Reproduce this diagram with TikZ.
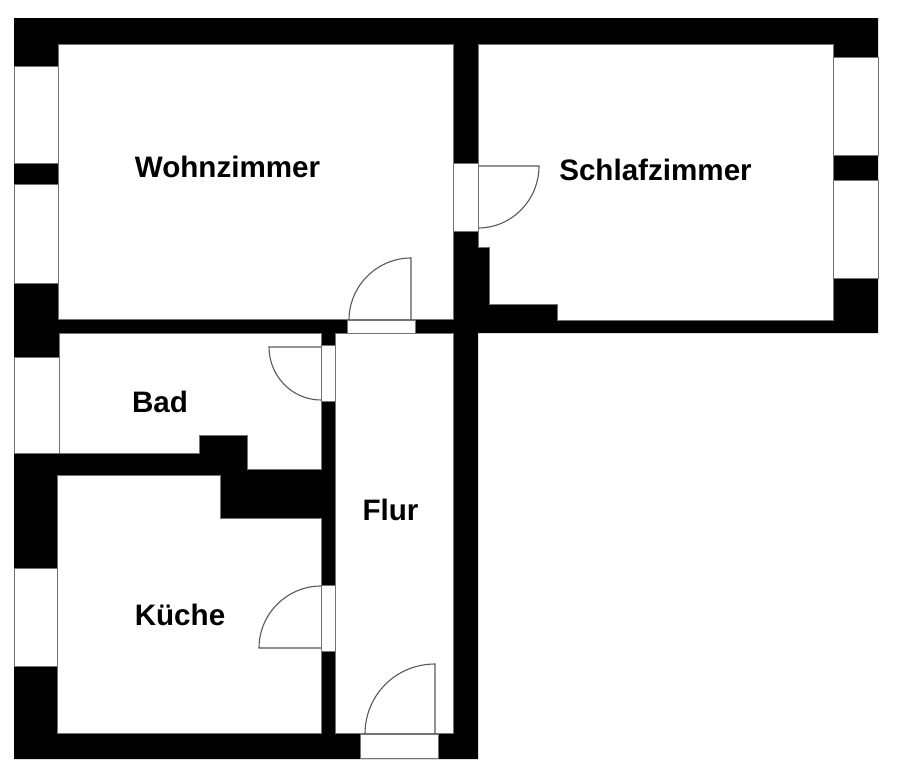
\documentclass[tikz,border=0pt]{standalone}
\usepackage{fontspec}
\setmainfont{Liberation Sans}
\tikzset{
  roomfill/.style={fill=white,draw=wallgray,line width=0.7pt},
  opening/.style={fill=white,draw=wallgray,line width=0.7pt},
  swing/.style={draw=swinggray,line width=1.1pt},
  roomlabel/.style={font=\bfseries\fontsize{29.6}{32}\selectfont,text=black,inner sep=0pt,anchor=center}
}
\definecolor{wallgray}{gray}{0.45}
\definecolor{swinggray}{gray}{0.35}
\begin{document}
\begin{tikzpicture}[x=1pt,y=-1pt]
\useasboundingbox (0,0) rectangle (900,780);
\fill[white] (0,0) rectangle (900,780);
% walls
\fill[black] (14,18) -- (878,18) -- (878,333) -- (478,333) -- (478,759) -- (14,759) -- cycle;
% rooms
\path[roomfill] (58,44) rectangle (453,319);
\path[roomfill] (478,44) -- (833,44) -- (833,320) -- (557,320) -- (557,304) -- (489,304) -- (489,247) -- (478,247) -- cycle;
\path[roomfill] (59,333) -- (321,333) -- (321,469) -- (247,469) -- (247,435) -- (199,435) -- (199,453) -- (59,453) -- cycle;
\path[roomfill] (57,475) -- (220,475) -- (220,518) -- (321,518) -- (321,733) -- (57,733) -- cycle;
\path[roomfill] (335,333) rectangle (453,733);
% door swings
\draw[swing] (478,228) .. controls (512,228) and (539,200) .. (539,166) -- (478,166);
\draw[swing] (349,320) .. controls (349,286) and (377,258) .. (411,258) -- (411,320);
\draw[swing] (321,400) .. controls (292,400) and (269,376) .. (269,347) -- (321,347);
\draw[swing] (321,586) .. controls (287,586) and (259,614) .. (259,648) -- (321,648);
\draw[swing] (365,734) .. controls (365,695) and (396,664) .. (435,664) -- (435,734);
% windows
\path[opening] (14,66) rectangle (58,163);
\path[opening] (14,184) rectangle (58,283);
\path[opening] (14,357) rectangle (59,453);
\path[opening] (14,568) rectangle (57,666);
\path[opening] (833,57) rectangle (878,155);
\path[opening] (833,180) rectangle (878,278);
% door openings
\path[opening] (453,163) rectangle (478,231);
\path[opening] (347,320) rectangle (415,333);
\path[opening] (321,345) rectangle (335,401);
\path[opening] (321,585) rectangle (335,651);
\path[opening] (360,734) rectangle (438,758);
% labels
\node[roomlabel] (wohn) at (227.5,167) {Wohnzimmer};
\node[roomlabel] (schlaf) at (655.5,169.5) {Schlafzimmer};
\node[roomlabel] (bad) at (160,401.5) {Bad};
\node[roomlabel] (flur) at (390.5,510) {Flur};
\node[roomlabel] (kueche) at (180,614.5) {Küche};
\end{tikzpicture}
\end{document}
